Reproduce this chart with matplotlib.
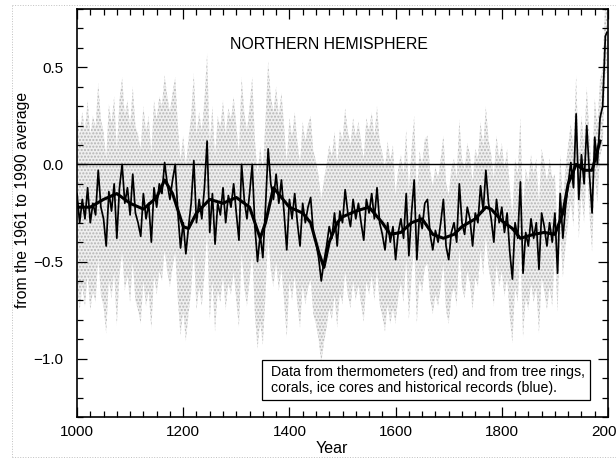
import numpy as np
import matplotlib
matplotlib.use('Agg')
import matplotlib.pyplot as plt
from matplotlib.patches import Rectangle
from matplotlib.lines import Line2D
from matplotlib.ticker import MultipleLocator

plt.rcParams['font.family'] = ['Liberation Sans', 'DejaVu Sans']

# reconstructed anomaly, one value every 5 years, plus 1998
years = list(range(1000, 2000, 5)) + [1998]
anomaly = [
    # 1000s
    -0.15, -0.30, -0.18, -0.28, -0.12, -0.30, -0.20, -0.26, -0.03, -0.22,
    -0.28, -0.42, -0.14, -0.24, -0.10, -0.38, -0.12, 0.00, -0.20, -0.12,
    # 1100s
    -0.26, -0.05, -0.25, -0.30, -0.37, -0.15, -0.28, -0.20, -0.40, -0.12,
    -0.22, -0.10, -0.15, 0.01, -0.10, -0.18, -0.08, 0.00, -0.25, -0.43,
    # 1200s
    -0.30, -0.46, -0.32, -0.20, 0.02, -0.30, -0.18, -0.28, -0.12, 0.12,
    -0.35, -0.15, -0.41, -0.20, -0.26, -0.12, -0.30, -0.16, -0.22, -0.10,
    # 1300s
    -0.25, -0.39, 0.00, -0.18, -0.28, -0.15, 0.00, -0.32, -0.50, -0.36,
    -0.48, -0.22, 0.08, -0.10, -0.18, -0.05, -0.20, -0.08, -0.25, -0.44,
    # 1400s
    -0.18, -0.28, -0.15, -0.30, -0.42, -0.20, -0.30, -0.22, -0.17, -0.35,
    -0.40, -0.48, -0.60, -0.50, -0.42, -0.32, -0.38, -0.25, -0.42, -0.24,
    # 1500s
    -0.30, -0.13, -0.25, -0.32, -0.18, -0.28, -0.20, -0.30, -0.39, -0.18,
    -0.25, -0.15, -0.28, -0.12, -0.30, -0.36, -0.44, -0.30, -0.40, -0.32,
    # 1600s
    -0.49, -0.35, -0.28, -0.38, -0.15, -0.47, -0.25, -0.08, -0.49, -0.26,
    -0.33, -0.20, -0.18, -0.36, -0.44, -0.34, -0.40, -0.30, -0.18, -0.42,
    # 1700s
    -0.49, -0.35, -0.30, -0.40, -0.10, -0.30, -0.36, -0.22, -0.28, -0.42,
    -0.25, -0.30, -0.11, -0.24, -0.03, -0.20, -0.28, -0.40, -0.18, -0.30,
    # 1800s
    -0.22, -0.35, -0.25, -0.45, -0.59, -0.30, -0.38, -0.09, -0.56, -0.35,
    -0.42, -0.28, -0.38, -0.30, -0.54, -0.25, -0.32, -0.42, -0.30, -0.40,
    # 1900s
    -0.25, -0.56, -0.15, -0.38, -0.22, -0.10, 0.01, -0.12, 0.26, -0.18,
    0.05, -0.10, 0.20, -0.05, -0.25, 0.14, 0.00, 0.24, 0.30, 0.66,
    # 1998
    0.68,
]

# smoothed curve
smooth_years = [1000, 1025, 1050, 1075, 1100, 1125, 1150, 1165, 1180, 1200,
                1210, 1225, 1250, 1275, 1300, 1325, 1345, 1355, 1370, 1385,
                1400, 1425, 1440, 1455, 1465, 1475, 1490, 1500, 1525, 1550,
                1575, 1590, 1610, 1630, 1650, 1670, 1690, 1710, 1725, 1750,
                1770, 1780, 1800, 1820, 1835, 1860, 1880, 1900, 1915, 1925,
                1940, 1955, 1970, 1985]
smooth_vals = [-0.22, -0.22, -0.18, -0.15, -0.20, -0.23, -0.17, -0.08, -0.15, -0.32,
               -0.33, -0.25, -0.18, -0.20, -0.17, -0.22, -0.38, -0.30, -0.12, -0.17,
               -0.22, -0.25, -0.30, -0.45, -0.53, -0.40, -0.30, -0.27, -0.24, -0.22,
               -0.30, -0.36, -0.35, -0.30, -0.28, -0.36, -0.38, -0.36, -0.32, -0.28,
               -0.22, -0.23, -0.29, -0.33, -0.38, -0.36, -0.35, -0.36, -0.25, -0.10,
               0.00, -0.03, -0.03, 0.12]

# uncertainty half-width by period
band_edges = [1000, 1400, 1600, 1900]
band_halfwidth = [0.45, 0.42, 0.33, 0.20]

yrs = np.array(years)
vals = np.array(anomaly)
hw = np.array(band_halfwidth)[np.searchsorted(band_edges, yrs, side='right') - 1]

fig = plt.figure(figsize=(6.16, 4.62), dpi=100)
ax = fig.add_axes([77/616, 1 - 417/462, 531/616, 408/462])

ax.fill_between(yrs, vals - hw, vals + hw, facecolor='#efefef',
                hatch='.....', edgecolor='#b4b4b4', linewidth=0)
ax.axhline(0, color='black', lw=1.0)
ax.plot(yrs, vals, color='black', lw=1.25)
ax.plot(smooth_years, smooth_vals, color='black', lw=2.2)

ax.set_xlim(1000, 2000)
ax.set_ylim(-1.3, 0.8)
ax.xaxis.set_major_locator(MultipleLocator(200))
ax.xaxis.set_minor_locator(MultipleLocator(25))
ax.yaxis.set_major_locator(MultipleLocator(0.5))
ax.yaxis.set_minor_locator(MultipleLocator(0.1))
ax.yaxis.set_major_formatter(plt.FuncFormatter(lambda v, p: f'{v:.1f}'.replace('-', '\u2212')))
ax.tick_params(which='both', direction='in', top=True, right=True, labelsize=11, width=0.9)
ax.tick_params(which='major', length=7)
ax.tick_params(which='minor', length=4)
ax.tick_params(axis='y', pad=10)
ax.tick_params(axis='x', pad=6)
for s in ax.spines.values():
    s.set_linewidth(1.2)

ax.text(0.475, 0.914, 'NORTHERN HEMISPHERE', transform=ax.transAxes,
        ha='center', va='center', fontsize=11.4)

ax.add_patch(Rectangle((0.348, 0.042), 0.618, 0.098, transform=ax.transAxes,
                       facecolor='white', edgecolor='black', lw=0.9, zorder=5))
ax.text(0.366, 0.091, 'Data from thermometers (red) and from tree rings,\n'
        'corals, ice cores and historical records (blue).',
        transform=ax.transAxes, ha='left', va='center', fontsize=10.2,
        linespacing=1.2, zorder=6)

fig.text(0.036, 0.567, 'from the 1961 to 1990 average', rotation=90,
         ha='center', va='center', fontsize=11.3)
fig.text(0.539, 0.030, 'Year', ha='center', va='center', fontsize=11.5)

# faint dotted scan border
for xs, ys in [([12/616, 12/616], [5/462, 457/462]),
               ([12/616, 1], [1 - 457/462, 1 - 457/462]),
               ([12/616, 1], [1 - 5/462, 1 - 5/462])]:
    fig.add_artist(Line2D(xs, ys, color='#c0c0c0', lw=0.7, ls=':'))

fig.savefig('out.png', dpi=100)
